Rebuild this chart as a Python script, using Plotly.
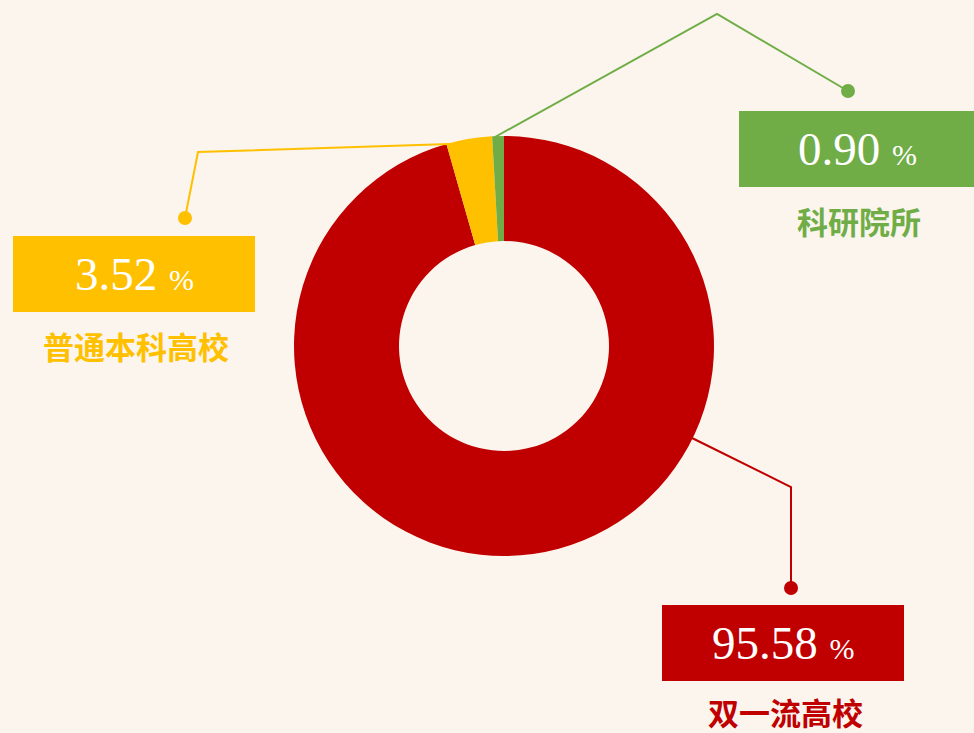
import plotly.graph_objects as go

#%% Dados
categorias = ['双一流高校', '普通本科高校', '科研院所']
valores = [95.58, 3.52, 0.90]
cores = ['#C00000', '#FFC000', '#70AD47']
textos_pct = ['95.58', '3.52', '0.90']

# Caixas de rótulo (pixels: x0, x1, y0, y1) e linhas de chamada
caixas = [(662, 904, 605, 681), (13, 255, 236, 312), (739, 980, 111, 187)]
linhas = [
    [(692, 438), (791, 487), (791, 588)],
    [(450, 144), (198, 152), (185, 218)],
    [(495, 137), (717, 14), (848, 91)],
]
W, H = 974, 733
bg = '#FBF5ED'

#%% Gráfico
fig = go.Figure()
fig.add_trace(go.Pie(labels=categorias, values=valores, hole=0.5, sort=False,
                     direction='clockwise', rotation=0,
                     marker=dict(colors=cores, line=dict(width=0)),
                     textinfo='none', hoverinfo='label+percent', showlegend=False,
                     domain=dict(x=[294 / W, 714 / W], y=[1 - 556 / H, 1 - 136 / H])))

shapes = []
annotations = []
for cor, cx, pts, pct, cat in zip(cores, caixas, linhas, textos_pct, categorias):
    x0, x1, y0, y1 = cx
    shapes.append(dict(type='rect', xref='x', yref='y', x0=x0, x1=x1, y0=y0, y1=y1,
                       fillcolor=cor, line=dict(width=0), layer='below'))
    path = 'M {},{} L {},{} L {},{}'.format(*pts[0], *pts[1], *pts[2])
    shapes.append(dict(type='path', xref='x', yref='y', path=path,
                       line=dict(color=cor, width=2)))
    ex, ey = pts[2]
    shapes.append(dict(type='circle', xref='x', yref='y', x0=ex - 7, x1=ex + 7,
                       y0=ey - 7, y1=ey + 7, fillcolor=cor, line=dict(width=0)))
    # centro do texto (caixa verde sai pela borda direita)
    xm = (x0 + x1) / 2 if x1 <= W else 857
    annotations.append(dict(xref='x', yref='y', x=xm, y=(y0 + y1) / 2, showarrow=False,
                            text=pct + ' <span style="font-size:30px">%</span>',
                            font=dict(family='Liberation Serif', size=47, color='white')))
    annotations.append(dict(xref='x', yref='y', x=xm + 2, y=min(y1 + 33, H - 22),
                            showarrow=False, text=cat, borderpad=0,
                            font=dict(family='Noto Sans CJK SC', size=31, color=cor,
                                      weight='bold')))

fig.update_layout(width=W, height=H, margin=dict(l=0, r=0, t=0, b=0),
                  paper_bgcolor=bg, plot_bgcolor=bg,
                  xaxis=dict(range=[0, W], visible=False, fixedrange=True),
                  yaxis=dict(range=[H, 0], visible=False, fixedrange=True),
                  shapes=shapes, annotations=annotations)
fig.write_html("out.html", config={'displayModeBar': False},
               post_script="document.body.style.margin='0';document.body.style.overflow='hidden';")
